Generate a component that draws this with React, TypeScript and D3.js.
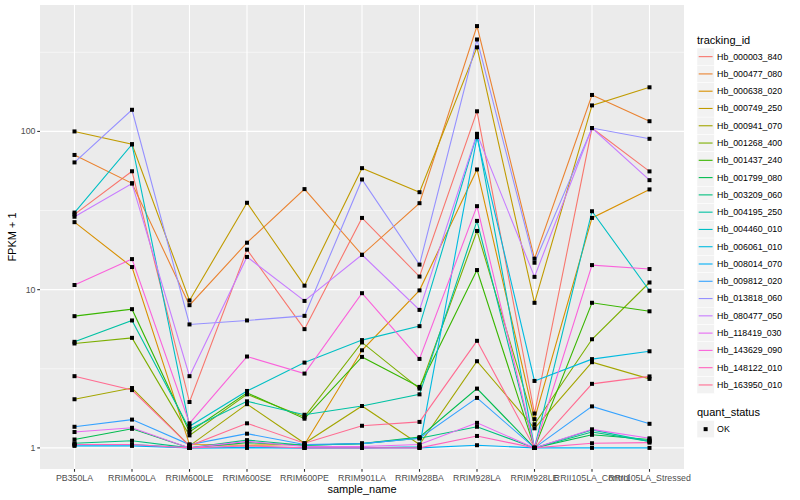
import { useMemo } from "react";
import * as d3 from "d3";

const samples = [
  "PB350LA", "RRIM600LA", "RRIM600LE", "RRIM600SE", "RRIM600PE", "RRIM901LA",
  "RRIM928BA", "RRIM928LA", "RRIM928LE", "RRII105LA_Control", "RRII105LA_Stressed",
];

// FPKM + 1, one value per sample
const hb_000003_840 = [29.9, 56, 1.95, 17.9, 5.63, 28.4, 12.1, 134, 1.65, 105, 55.9];
const hb_000477_080 = [71, 47, 7.98, 19.8, 43.2, 16.6, 35.2, 463, 15.7, 170, 116];
const hb_000638_020 = [26.7, 13.9, 1.05, 1.04, 1.05, 4.14, 9.9, 57.5, 1.52, 28.4, 43];
const hb_000749_250 = [100, 83, 8.55, 35.4, 10.6, 58.6, 41.3, 340, 8.26, 146, 190];
const hb_000941_070 = [2.03, 2.39, 1.03, 1.89, 1.07, 1.84, 1.05, 3.53, 1.33, 3.48, 2.73];
const hb_001268_400 = [4.57, 4.96, 1.2, 2.18, 1.57, 4.64, 2.37, 23.5, 1.41, 4.86, 11.1];
const hb_001437_240 = [6.8, 7.53, 1.26, 2.23, 1.53, 3.76, 2.43, 13.3, 1.0, 8.26, 7.3];
const hb_001799_080 = [1.13, 1.32, 1.0, 1.08, 1.04, 1.065, 1.17, 2.37, 1.0, 1.21, 1.13];
const hb_003209_060 = [1.07, 1.11, 1.0, 1.12, 1.04, 1.065, 1.15, 1.36, 1.0, 1.26, 1.1];
const hb_004195_250 = [4.68, 6.39, 1.31, 1.97, 1.62, 1.84, 2.18, 27.2, 1.0, 1.3, 1.1];
const hb_004460_010 = [30.7, 82.8, 1.37, 2.29, 3.46, 4.8, 5.88, 96, 1.0, 31.3, 9.85];
const hb_006061_010 = [1.05, 1.05, 1.0, 1.01, 1.0, 1.0, 1.015, 92, 2.65, 3.64, 4.08];
const hb_008014_070 = [1.03, 1.03, 1.0, 1.0, 1.0, 1.0, 1.0, 1.04, 1.0, 1.0, 1.0];
const hb_009812_020 = [1.36, 1.51, 1.05, 1.23, 1.05, 1.065, 1.15, 2.07, 1.0, 1.83, 1.42];
const hb_013818_060 = [63.7, 137, 6.03, 6.39, 6.83, 49.7, 14.4, 381, 14.8, 105, 89.8];
const hb_080477_050 = [28.9, 46.9, 2.84, 16.1, 8.49, 16.6, 7.45, 96.6, 12.05, 105, 49.2];
const hb_118419_030 = [1.26, 1.34, 1.0, 1.1, 1.02, 1.02, 1.05, 1.44, 1.0, 1.31, 1.15];
const hb_143629_090 = [10.7, 15.6, 1.43, 3.78, 2.95, 9.5, 3.65, 33.7, 1.0, 14.3, 13.5];
const hb_148122_010 = [1.05, 1.05, 1.0, 1.03, 1.0, 1.0, 1.0, 1.19, 1.0, 1.07, 1.08];
const hb_163950_010 = [2.84, 2.32, 1.03, 1.43, 1.07, 1.38, 1.46, 4.75, 1.0, 2.54, 2.83];

const trackingIds = [
  "Hb_000003_840", "Hb_000477_080", "Hb_000638_020", "Hb_000749_250", "Hb_000941_070",
  "Hb_001268_400", "Hb_001437_240", "Hb_001799_080", "Hb_003209_060", "Hb_004195_250",
  "Hb_004460_010", "Hb_006061_010", "Hb_008014_070", "Hb_009812_020", "Hb_013818_060",
  "Hb_080477_050", "Hb_118419_030", "Hb_143629_090", "Hb_148122_010", "Hb_163950_010",
];
const seriesValues = [
  hb_000003_840, hb_000477_080, hb_000638_020, hb_000749_250, hb_000941_070,
  hb_001268_400, hb_001437_240, hb_001799_080, hb_003209_060, hb_004195_250,
  hb_004460_010, hb_006061_010, hb_008014_070, hb_009812_020, hb_013818_060,
  hb_080477_050, hb_118419_030, hb_143629_090, hb_148122_010, hb_163950_010,
];
const yTicks = [1, 10, 100];

// ggplot hue palette, 20 levels
const palette = [
  "#F8766D", "#EA8331", "#D89000", "#C09B00", "#A3A500", "#7CAE00", "#39B600",
  "#00BB4E", "#00BF7D", "#00C1A3", "#00BFC4", "#00BAE0", "#00B0F6", "#35A2FF",
  "#9590FF", "#C77CFF", "#E76BF3", "#FA62DB", "#FF62BC", "#FF6C91",
];

const W = 800;
const H = 500;
const panel = { left: 40, right: 684, top: 5, bottom: 469 };
const FONT = "'Liberation Sans', Arial, Helvetica, sans-serif";

export default function App() {
  const { x, y, lo, hi } = useMemo(() => {
    const all = seriesValues.flat();
    const lo = Math.log10(d3.min(all)!);
    const hi = Math.log10(d3.max(all)!);
    const pad = (hi - lo) * 0.05;
    const x = d3.scalePoint<string>().domain(samples).range([panel.left, panel.right]).padding(0.6);
    const y = d3.scaleLog().domain([10 ** (lo - pad), 10 ** (hi + pad)]).range([panel.bottom, panel.top]);
    return { x, y, lo, hi };
  }, []);

  const minorTicks = yTicks.map(t => t * Math.sqrt(10)).filter(t => t < y.domain()[1]);
  const line = d3.line<number>()
    .x((_, i) => x(samples[i])!)
    .y(d => y(d));

  const legendX = 697;
  const keySize = 17.28;
  const firstKey = 48;

  return (
    <svg width={W} height={H} style={{ position: "absolute", left: 0, top: 0 }} fontFamily={FONT}>
      <rect width={W} height={H} fill="#fff" />
      <rect x={panel.left} y={panel.top} width={panel.right - panel.left} height={panel.bottom - panel.top} fill="#EBEBEB" />
      {minorTicks.map(t => (
        <line key={"mn" + t} x1={panel.left} x2={panel.right} y1={y(t)} y2={y(t)} stroke="#fff" strokeWidth={0.55} />
      ))}
      {yTicks.map(t => (
        <line key={"mj" + t} x1={panel.left} x2={panel.right} y1={y(t)} y2={y(t)} stroke="#fff" strokeWidth={1.1} />
      ))}
      {samples.map(s => (
        <line key={"v" + s} x1={x(s)} x2={x(s)} y1={panel.top} y2={panel.bottom} stroke="#fff" strokeWidth={1.1} />
      ))}

      <g>
        {seriesValues.map((vals, i) => (
          <path key={trackingIds[i]} d={line(vals) ?? ""} fill="none" stroke={palette[i]} strokeWidth={1.1} />
        ))}
      </g>
      <g>
        {seriesValues.map((vals, i) =>
          vals.map((v, j) => (
            <rect key={i + "-" + j} x={x(samples[j])! - 2} y={y(v) - 2} width={4} height={4} fill="#000" />
          ))
        )}
      </g>

      {/* y axis */}
      {yTicks.map(t => (
        <g key={"yt" + t}>
          <line x1={panel.left - 2.75} x2={panel.left} y1={y(t)} y2={y(t)} stroke="#333" strokeWidth={1.1} />
          <text x={panel.left - 4.5} y={y(t)} dy="0.33em" textAnchor="end" fontSize={8.8} fill="#4D4D4D">{t}</text>
        </g>
      ))}
      {/* x axis */}
      {samples.map(s => (
        <g key={"xt" + s}>
          <line x1={x(s)} x2={x(s)} y1={panel.bottom} y2={panel.bottom + 2.75} stroke="#333" strokeWidth={1.1} />
          <text x={x(s)} y={panel.bottom + 11.5} textAnchor="middle" fontSize={8.8} fill="#4D4D4D">{s}</text>
        </g>
      ))}
      <text x={(panel.left + panel.right) / 2} y={493} textAnchor="middle" fontSize={11}>sample_name</text>
      <text transform={`translate(16,${(panel.top + panel.bottom) / 2}) rotate(-90)`} textAnchor="middle" fontSize={11}>FPKM + 1</text>

      {/* legends */}
      <text x={legendX} y={44} fontSize={11}>tracking_id</text>
      {trackingIds.map((id, i) => {
        const ky = firstKey + i * keySize;
        return (
          <g key={"lg" + id}>
            <rect x={legendX} y={ky} width={keySize} height={keySize} fill="#F2F2F2" stroke="#fff" strokeWidth={0.5} />
            <line x1={legendX + 1.7} x2={legendX + keySize - 1.7} y1={ky + keySize / 2} y2={ky + keySize / 2} stroke={palette[i]} strokeWidth={1.1} />
            <text x={legendX + keySize + 2.8} y={ky + keySize / 2} dy="0.33em" fontSize={8.8}>{id}</text>
          </g>
        );
      })}
      <text x={legendX} y={416} fontSize={11}>quant_status</text>
      <rect x={legendX} y={420.5} width={keySize} height={keySize} fill="#F2F2F2" stroke="#fff" strokeWidth={0.5} />
      <rect x={legendX + keySize / 2 - 2} y={420.5 + keySize / 2 - 2} width={4} height={4} fill="#000" />
      <text x={legendX + keySize + 2.8} y={420.5 + keySize / 2} dy="0.33em" fontSize={8.8}>OK</text>
      <desc>{`log range ${lo.toFixed(2)}..${hi.toFixed(2)}`}</desc>
    </svg>
  );
}
